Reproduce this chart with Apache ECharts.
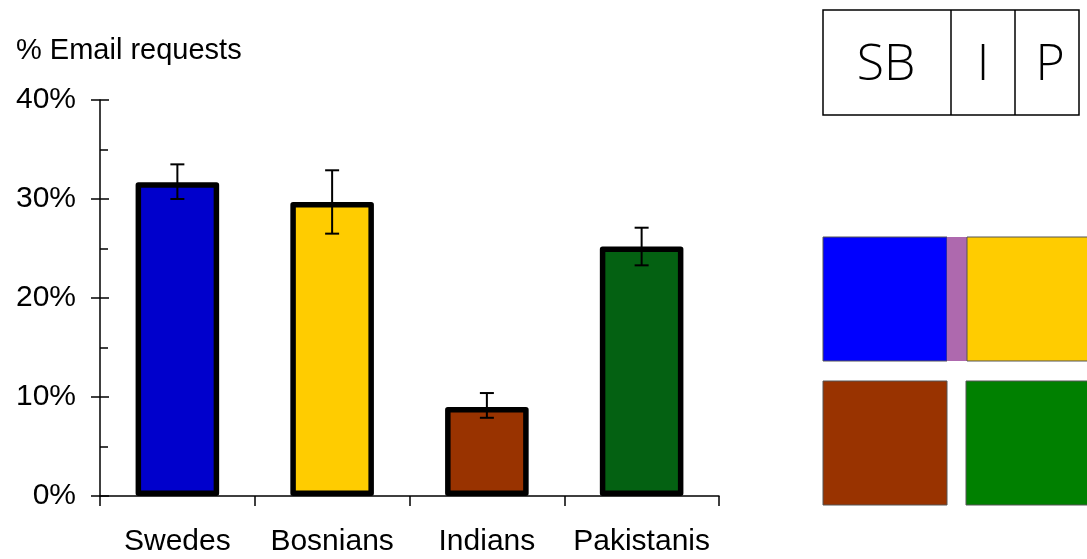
<!DOCTYPE html>
<html><head><meta charset="utf-8">
<script src="https://cdn.jsdelivr.net/npm/echarts@6/dist/echarts.min.js"></script>
<style>html,body{margin:0;padding:0;background:#fff}#c{width:1087px;height:559px}</style>
</head><body><div id="c"></div>
<script>
const categories = ['Swedes', 'Bosnians', 'Indians', 'Pakistanis'];
const values = [31.7, 29.7, 9.0, 25.2];
const errLow = [30.0, 26.5, 7.9, 23.3];
const errHigh = [33.5, 32.9, 10.4, 27.1];
const barColors = ['#0000CC', '#FFCC00', '#993300', '#046112'];
const yTicks = [0, 10, 20, 30, 40];
const boxLabels = ['SB', 'I', 'P'];

const chart = echarts.init(document.getElementById('c'), null, {renderer: 'canvas'});
const font = 'Arial, "Liberation Sans", sans-serif';
const boxFont = '"Open Sans", "Noto Sans", sans-serif';
const yMin = yTicks[0], yMax = yTicks[yTicks.length - 1], yInt = yTicks[1] - yTicks[0];

const option = {
  animation: false,
  backgroundColor: '#fff',
  title: {
    text: '% Email requests', left: 11, top: 31,
    textStyle: {fontFamily: font, fontSize: 29, fontWeight: 'normal', color: '#000'}
  },
  grid: {left: 100, right: 368, top: 100, bottom: 63, containLabel: false},
  xAxis: {
    type: 'category', data: categories, boundaryGap: true,
    axisLine: {lineStyle: {color: '#000', width: 1.5}},
    axisTick: {show: true, inside: false, length: 10, alignWithLabel: false, lineStyle: {color: '#000', width: 1.5}},
    axisLabel: {fontFamily: font, fontSize: 30, color: '#000', margin: 31, interval: 0}
  },
  yAxis: [{
    type: 'value', min: yMin, max: yMax, interval: yInt,
    axisLine: {show: true, lineStyle: {color: '#000', width: 1.5}},
    axisTick: {show: true, inside: false, length: 9, lineStyle: {color: '#000', width: 1.5}},
    axisLabel: {fontFamily: font, fontSize: 30, color: '#000', margin: 24, formatter: v => v + '%'},
    splitLine: {show: false}
  }, {
    type: 'value', min: yMin, max: yMax, interval: yInt, position: 'left',
    axisLine: {show: false},
    axisTick: {show: true, inside: true, length: 9, lineStyle: {color: '#000', width: 1.5}},
    minorTick: {show: true, splitNumber: 2, length: 8, lineStyle: {color: '#000', width: 1.5}},
    axisLabel: {show: false},
    splitLine: {show: false}
  }],
  series: [{
    type: 'bar', yAxisIndex: 0, barWidth: '54%',
    data: values.map((v, i) => ({value: v, itemStyle: {color: barColors[i]}})),
    itemStyle: {borderColor: '#000', borderWidth: 5.5, borderJoin: 'round'},
    z: 2
  }, {
    type: 'custom', yAxisIndex: 0, z: 5,
    data: categories.map((c, i) => [i, errLow[i], errHigh[i]]),
    renderItem: function (params, api) {
      const lo = api.coord([api.value(0), api.value(1)]);
      const hi = api.coord([api.value(0), api.value(2)]);
      const hw = 7;
      const st = {stroke: '#000', lineWidth: 2};
      return {type: 'group', children: [
        {type: 'line', shape: {x1: hi[0], y1: hi[1], x2: lo[0], y2: lo[1]}, style: st},
        {type: 'line', shape: {x1: hi[0] - hw, y1: hi[1], x2: hi[0] + hw, y2: hi[1]}, style: st},
        {type: 'line', shape: {x1: lo[0] - hw, y1: lo[1], x2: lo[0] + hw, y2: lo[1]}, style: st}
      ]};
    }
  }],
  graphic: [
    {type: 'rect', shape: {x: 823, y: 10, width: 256, height: 105}, style: {fill: '#fff', stroke: '#000', lineWidth: 1.5}},
    {type: 'line', shape: {x1: 951, y1: 10, x2: 951, y2: 115}, style: {stroke: '#000', lineWidth: 1.5}},
    {type: 'line', shape: {x1: 1015, y1: 10, x2: 1015, y2: 115}, style: {stroke: '#000', lineWidth: 1.5}},
    {type: 'text', x: 886, y: 66, style: {text: boxLabels[0], fontFamily: boxFont, fontWeight: 300, fontSize: 50, fill: '#000', align: 'center', verticalAlign: 'middle'}},
    {type: 'text', x: 983, y: 66, style: {text: boxLabels[1], fontFamily: boxFont, fontWeight: 300, fontSize: 50, fill: '#000', align: 'center', verticalAlign: 'middle'}},
    {type: 'text', x: 1050, y: 66, style: {text: boxLabels[2], fontFamily: boxFont, fontWeight: 300, fontSize: 50, fill: '#000', align: 'center', verticalAlign: 'middle'}},
    {type: 'rect', shape: {x: 823, y: 237, width: 124, height: 124}, style: {fill: '#0000FF', stroke: '#555', lineWidth: 1}},
    {type: 'rect', shape: {x: 947, y: 237, width: 20, height: 124}, style: {fill: '#AE69AE', stroke: null}},
    {type: 'rect', shape: {x: 967, y: 237, width: 130, height: 124}, style: {fill: '#FFCC00', stroke: '#555', lineWidth: 1}},
    {type: 'rect', shape: {x: 823, y: 381, width: 124, height: 124}, style: {fill: '#993300', stroke: '#555', lineWidth: 1}},
    {type: 'rect', shape: {x: 966, y: 381, width: 130, height: 124}, style: {fill: '#008000', stroke: '#555', lineWidth: 1}}
  ]
};
chart.setOption(option);
</script>
</body></html>
